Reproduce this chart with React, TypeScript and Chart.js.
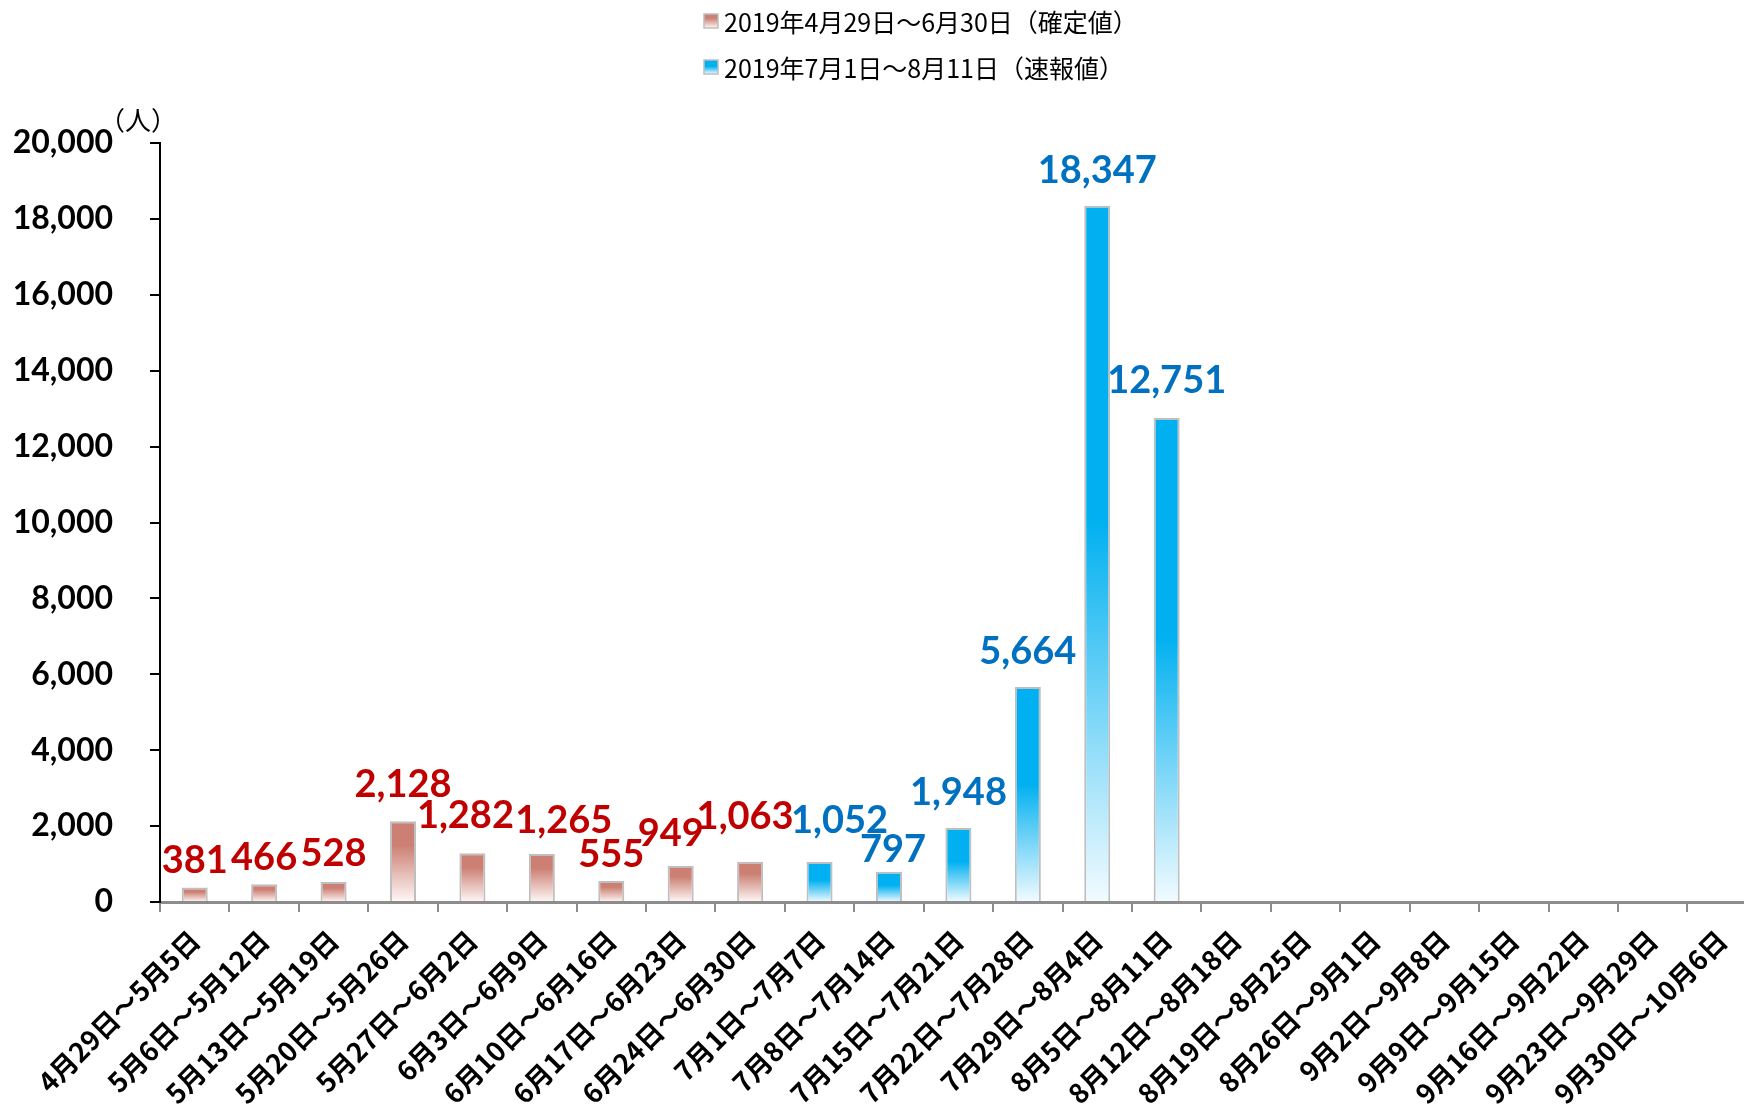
import React, { useEffect, useRef } from "react";
import { Chart, registerables } from "chart.js";

Chart.register(...registerables);

const categories: string[] = [
  "4月29日～5月5日",
  "5月6日～5月12日",
  "5月13日～5月19日",
  "5月20日～5月26日",
  "5月27日～6月2日",
  "6月3日～6月9日",
  "6月10日～6月16日",
  "6月17日～6月23日",
  "6月24日～6月30日",
  "7月1日～7月7日",
  "7月8日～7月14日",
  "7月15日～7月21日",
  "7月22日～7月28日",
  "7月29日～8月4日",
  "8月5日～8月11日",
  "8月12日～8月18日",
  "8月19日～8月25日",
  "8月26日～9月1日",
  "9月2日～9月8日",
  "9月9日～9月15日",
  "9月16日～9月22日",
  "9月23日～9月29日",
  "9月30日～10月6日",
];

const confirmedValues: (number | null)[] = [
  381, 466, 528, 2128, 1282, 1265, 555, 949, 1063,
  null, null, null, null, null, null, null, null, null, null, null, null, null, null,
];

const preliminaryValues: (number | null)[] = [
  null, null, null, null, null, null, null, null, null,
  1052, 797, 1948, 5664, 18347, 12751,
  null, null, null, null, null, null, null, null,
];

const seriesLabels: string[] = [
  "2019年4月29日～6月30日（確定値）",
  "2019年7月1日～8月11日（速報値）",
];

const yTickMax = 20000;
const yTickStep = 2000;
const unitLabel = "（人）";

// styles
const barTopColors = ["#CC8074", "#00B0F0"];
const barBottomColors = ["#FFF8F7", "#F2FBFF"];
const solidStops = [0.3, 0.45];
const labelColors = ["#C00000", "#0070C0"];
const labelGap = 24;
// small manual nudges of the value labels (px), as in the reference layout
const labelNudgeX: number[] = [0, 0, 0, 0, -7, 22, 0, -10, -5, 20, 4, 0, 0, 0, 0, 0, 0, 0, 0, 0, 0, 0, 0];
const labelNudgeY: number[] = [9, 10, 8, 0, -1, 3, 10, 4, -9, -5, 14, 1, 1, 1, -1, 0, 0, 0, 0, 0, 0, 0, 0];

function makeGradient(ctx: CanvasRenderingContext2D, top: number, bottom: number, i: number) {
  const g = ctx.createLinearGradient(0, top, 0, bottom);
  g.addColorStop(0, barTopColors[i]);
  g.addColorStop(solidStops[i], barTopColors[i]);
  g.addColorStop(1, barBottomColors[i]);
  return g;
}

const fmt = (v: number) => Number(v).toLocaleString("en-US");

const dataLabelPlugin = {
  id: "dataLabels",
  afterDatasetsDraw(chart: any) {
    const ctx = chart.ctx as CanvasRenderingContext2D;
    ctx.save();
    ctx.font = "bold 38px Lato";
    ctx.textAlign = "center";
    ctx.textBaseline = "alphabetic";
    chart.data.datasets.forEach((ds: any, di: number) => {
      const meta = chart.getDatasetMeta(di);
      meta.data.forEach((el: any, idx: number) => {
        const v = ds.data[idx];
        if (v == null) return;
        ctx.fillStyle = labelColors[di];
        ctx.fillText(fmt(v), el.x + labelNudgeX[idx], el.y - labelGap + labelNudgeY[idx]);
      });
    });
    ctx.restore();
  },
};

const legendPlugin = {
  id: "customLegend",
  afterDraw(chart: any) {
    const ctx = chart.ctx as CanvasRenderingContext2D;
    ctx.save();
    const rows = [21, 67];
    seriesLabels.forEach((label, i) => {
      const cy = rows[i];
      const bx = 704;
      const by = cy - 7;
      const g = makeGradient(ctx, by, by + 14, i);
      ctx.fillStyle = g;
      ctx.fillRect(bx, by, 14, 14);
      ctx.strokeStyle = "#BFBFBF";
      ctx.lineWidth = 1.5;
      ctx.strokeRect(bx, by, 14, 14);
      ctx.fillStyle = "#000000";
      ctx.font = "25px 'Noto Sans CJK JP'";
      ctx.textAlign = "left";
      ctx.textBaseline = "middle";
      ctx.fillText(label, 724, cy + 1);
    });
    // unit label
    ctx.font = "26px 'Noto Sans CJK JP'";
    ctx.textAlign = "center";
    ctx.textBaseline = "middle";
    ctx.fillStyle = "#000000";
    ctx.fillText(unitLabel, 138, 120);
    ctx.restore();
  },
};

export default function App() {
  const canvasRef = useRef<HTMLCanvasElement | null>(null);

  useEffect(() => {
    if (!canvasRef.current) return;
    const bg = (i: number) => (c: any) => {
      const chart = c.chart;
      const v = c.raw;
      if (v == null || !chart.chartArea) return barTopColors[i];
      const y = chart.scales.y;
      const top = y.getPixelForValue(v);
      const bottom = y.getPixelForValue(0);
      return makeGradient(chart.ctx, top, bottom, i);
    };
    const chart = new Chart(canvasRef.current, {
      type: "bar",
      data: {
        labels: categories,
        datasets: [
          {
            label: seriesLabels[0],
            data: confirmedValues,
            backgroundColor: bg(0),
            borderColor: "#BFBFBF",
            borderWidth: 2,
            grouped: false,
            barPercentage: 0.375,
            categoryPercentage: 1,
          } as any,
          {
            label: seriesLabels[1],
            data: preliminaryValues,
            backgroundColor: bg(1),
            borderColor: "#BFBFBF",
            borderWidth: 2,
            grouped: false,
            barPercentage: 0.375,
            categoryPercentage: 1,
          } as any,
        ],
      },
      options: {
        animation: false,
        responsive: false,
        maintainAspectRatio: false,
        devicePixelRatio: 1,
        layout: { padding: { top: 143, left: 0, right: 0, bottom: 0 } },
        plugins: {
          legend: { display: false },
          tooltip: { enabled: false },
        },
        scales: {
          x: {
            type: "category",
            offset: true,
            grid: {
              drawOnChartArea: false,
              drawTicks: true,
              tickLength: 10,
              color: "#8C8C8C",
              lineWidth: 2,
              offset: true,
            },
            border: { color: "#8C8C8C", width: 3 },
            ticks: {
              autoSkip: false,
              maxRotation: 45,
              minRotation: 45,
              padding: 12,
              color: "#000000",
              font: { family: "'Noto Sans CJK JP'", size: 27, weight: "bold" },
            },
            afterFit: (scale: any) => {
              scale.height = 209;
            },
          },
          y: {
            min: 0,
            max: yTickMax,
            grid: {
              drawOnChartArea: false,
              drawTicks: true,
              tickLength: 10,
              color: "#000000",
              lineWidth: 2,
            },
            border: { color: "#000000", width: 2 },
            ticks: {
              stepSize: yTickStep,
              padding: 37,
              color: "#000000",
              font: { family: "Lato", size: 32, weight: "bold" },
              callback: (v: any) => fmt(v),
            },
            afterFit: (scale: any) => {
              scale.width = 160;
            },
          },
        },
      },
      plugins: [dataLabelPlugin, legendPlugin],
    });
    return () => chart.destroy();
  }, []);

  return (
    <div
      style={{
        position: "fixed",
        left: 0,
        top: 0,
        width: 1744,
        height: 1111,
        overflow: "hidden",
        background: "#ffffff",
      }}
    >
      <canvas
        ref={canvasRef}
        width={1757}
        height={1111}
        style={{ display: "block", width: 1757, height: 1111 }}
      />
    </div>
  );
}
